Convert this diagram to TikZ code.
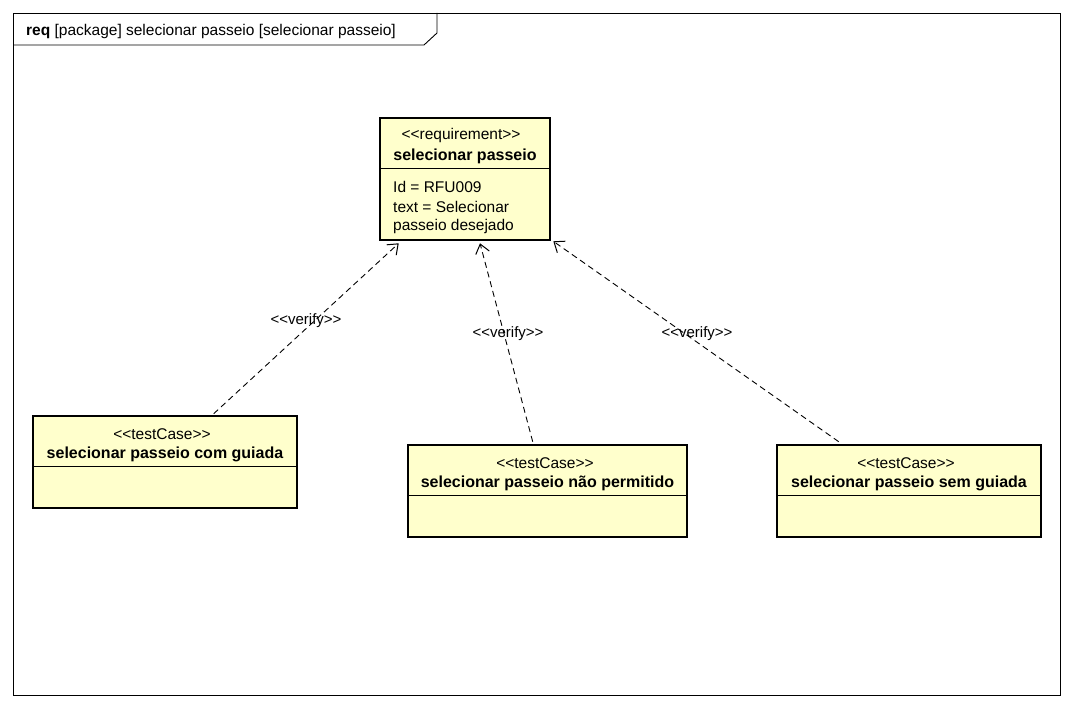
\documentclass[tikz,border=0pt]{standalone}
\usepackage{fontspec}
\setmainfont{Liberation Sans}
\usetikzlibrary{arrows.meta,calc}
\definecolor{boxfill}{HTML}{FFFFCC}
\newcommand\oglt{<\kern0pt<}
\newcommand\oggt{>\kern0pt>}
\tikzset{
  umlbox/.style={draw=black, line width=2.6pt, fill=boxfill, inner sep=0pt},
  divider/.style={draw=black, line width=1pt},
  stereo/.style={inner sep=0pt, font=\fontsize{15.5}{18}\selectfont},
  bname/.style={inner sep=0pt, font=\fontsize{16}{18}\selectfont\bfseries},
  attr/.style={inner sep=0pt, anchor=west, font=\fontsize{15.5}{18}\selectfont},
  verify/.style={draw=black, line width=0.9pt, dash pattern=on 6pt off 4pt, -{Straight Barb[length=9pt,width=14pt,line width=1pt]}},
  vlabel/.style={inner sep=0pt, font=\fontsize{15}{17}\selectfont},
}
\begin{document}
\begin{tikzpicture}[x=1pt,y=-1pt]
\useasboundingbox (0,0) rectangle (1073,708);
\fill[white] (0,0) rectangle (1073,708);
% frame
\draw[line width=0.9pt] (13,13) rectangle (1060,695);
\draw[line width=0.9pt] (13,45) -- (424,45) -- (437,33) -- (437,13);
\node[inner sep=0pt, anchor=west, font=\fontsize{15.5}{18}\selectfont] (title) at (26,31) {\textbf{req} [package] selecionar passeio [selecionar passeio]};

% requirement
\node[umlbox, minimum width=170pt, minimum height=122pt] (req) at (465,179) {};
\draw[divider] (381,169) -- (549,169);
\node[stereo] (reqst) at (461,135.5) {\oglt requirement\oggt};
\node[bname] (reqnm) at (465,156.5) {selecionar passeio};
\node[attr] (a1) at (393,186.5) {Id = RFU009};
\node[attr] (a2) at (393,206.5) {text = Selecionar};
\node[attr] (a3) at (393,226.5) {passeio desejado};

% test case 1
\node[umlbox, minimum width=264pt, minimum height=92pt] (tc1) at (165,462) {};
\draw[divider] (34,466) -- (296,466);
\node[stereo] (tc1st) at (162,434.5) {\oglt testCase\oggt};
\node[bname] (tc1nm) at (165,454.5) {selecionar passeio com guiada};

% test case 2
\node[umlbox, minimum width=279pt, minimum height=92pt] (tc2) at (547.5,491) {};
\draw[divider] (409,495) -- (686,495);
\node[stereo] (tc2st) at (545,463.5) {\oglt testCase\oggt};
\node[bname] (tc2nm) at (547.5,483.5) {selecionar passeio não permitido};

% test case 3
\node[umlbox, minimum width=264pt, minimum height=92pt] (tc3) at (909,491) {};
\draw[divider] (778,495) -- (1040,495);
\node[stereo] (tc3st) at (906,463.5) {\oglt testCase\oggt};
\node[bname] (tc3nm) at (909,483.5) {selecionar passeio sem guiada};

% verify connectors
\draw[verify] ($(tc1.north west)+(182,-1)$) -- ($(req.south west)+(20,2)$);
\draw[verify] ($(tc2.north west)+(126,-2)$) -- ($(req.south)+(15,2)$);
\draw[verify] ($(tc3.north west)+(63,-2)$) -- ($(req.south east)+(2,0)$);
\node[vlabel] (v1) at (306,321) {\oglt verify\oggt};
\node[vlabel] (v2) at (508,334) {\oglt verify\oggt};
\node[vlabel] (v3) at (697,334) {\oglt verify\oggt};
\end{tikzpicture}
\end{document}
